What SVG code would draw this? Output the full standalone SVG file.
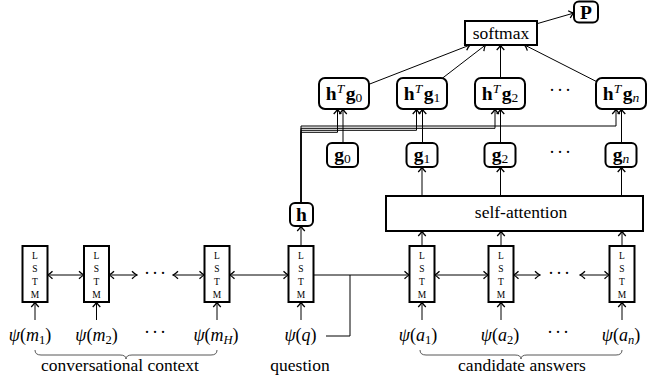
<svg xmlns="http://www.w3.org/2000/svg" width="649" height="383" viewBox="0 0 649 383">
<style>
.t{font-family:Liberation Serif,Times New Roman,Times,serif;fill:#000}
.box{fill:#fff;stroke:#000;stroke-width:2}
.rbox{fill:#fff;stroke:#000;stroke-width:2}
.ln{fill:none;stroke:#000;stroke-width:1}
.ar{fill:none;stroke:#000;stroke-width:1;marker-end:url(#ah)}
.dar{fill:none;stroke:#000;stroke-width:1;marker-end:url(#ah);marker-start:url(#ah)}
.br{fill:none;stroke:#444;stroke-width:0.9}
.lstm{font-size:9.5px;text-anchor:middle}
.m{font-size:18px;text-anchor:middle}
.n{font-size:19.5px;text-anchor:middle}
.d{font-size:18px;text-anchor:middle;letter-spacing:2px}
.lab{font-size:17.5px;text-anchor:middle}
.b{font-weight:bold}
.i{font-style:italic}
</style>
<defs>
<marker id="ah" viewBox="-6 -5 7 10" refX="0" refY="0" markerWidth="7" markerHeight="10" markerUnits="userSpaceOnUse" orient="auto-start-reverse">
<path d="M-5,-3.8 Q-2,-0.8 0,0 Q-2,0.8 -5,3.8" fill="none" stroke="#000" stroke-width="1.3"/>
</marker>
</defs>

<g id="connectors">
<path class="dar" d="M47.5,275 H84"/>
<path class="dar" d="M109,275 H137"/>
<path class="dar" d="M173,275 H204.5"/>
<path class="dar" d="M229.5,275 H288.5"/>
<path class="ar" d="M313.5,275 H409.5"/>
<path class="ln" d="M326,336 H350 V275"/>
<path class="dar" d="M434.5,275 H488.5"/>
<path class="dar" d="M513.5,275 H540"/>
<path class="dar" d="M580,275 H609.5"/>
<path class="ar" d="M35,320 V302"/>
<path class="ar" d="M96.5,320 V302"/>
<path class="ar" d="M217,320 V302"/>
<path class="ar" d="M301,320 V302"/>
<path class="ar" d="M422,320 V302"/>
<path class="ar" d="M501,320 V302"/>
<path class="ar" d="M622,320 V302"/>
<path class="ar" d="M422,246 V231"/>
<path class="ar" d="M501,246 V231"/>
<path class="ar" d="M622,246 V231"/>
<path class="ar" d="M301,246 V226"/>
<path class="ar" d="M422,196 V167"/>
<path class="ar" d="M500.5,196 V167"/>
<path class="ar" d="M621.5,196 V167"/>
<path class="ar" d="M343,143 V109"/>
<path class="ar" d="M422.5,143 V109"/>
<path class="ar" d="M500.5,143 V109"/>
<path class="ar" d="M621.5,143 V109"/>
<path class="ar" d="M301,203 V126 H616 V109"/>
<path class="ar" d="M301,203 V128.3 H495 V109"/>
<path class="ar" d="M301,203 V130.3 H416.5 V109"/>
<path class="ar" d="M301,203 V132.3 H337.5 V109"/>
<path class="ar" d="M369,84.3 L470,45"/>
<path class="ar" d="M442,78.5 L485.5,45"/>
<path class="ar" d="M500.5,78 V45"/>
<path class="ar" d="M596,81.3 L524.6,45"/>
<path class="ar" d="M537,23.7 L574,13"/>
</g>

<g id="lstm-m1"><rect class="box" x="22.5" y="246" width="25" height="56"/><text class="t lstm" x="35" y="259">L</text><text class="t lstm" x="35" y="272">S</text><text class="t lstm" x="35" y="285">T</text><text class="t lstm" x="35" y="298">M</text></g>
<g id="lstm-m2"><rect class="box" x="84" y="246" width="25" height="56"/><text class="t lstm" x="96.5" y="259">L</text><text class="t lstm" x="96.5" y="272">S</text><text class="t lstm" x="96.5" y="285">T</text><text class="t lstm" x="96.5" y="298">M</text></g>
<g id="lstm-mH"><rect class="box" x="204.5" y="246" width="25" height="56"/><text class="t lstm" x="217" y="259">L</text><text class="t lstm" x="217" y="272">S</text><text class="t lstm" x="217" y="285">T</text><text class="t lstm" x="217" y="298">M</text></g>
<g id="lstm-q"><rect class="box" x="288.5" y="246" width="25" height="56"/><text class="t lstm" x="301" y="259">L</text><text class="t lstm" x="301" y="272">S</text><text class="t lstm" x="301" y="285">T</text><text class="t lstm" x="301" y="298">M</text></g>
<g id="lstm-a1"><rect class="box" x="409.5" y="246" width="25" height="56"/><text class="t lstm" x="422" y="259">L</text><text class="t lstm" x="422" y="272">S</text><text class="t lstm" x="422" y="285">T</text><text class="t lstm" x="422" y="298">M</text></g>
<g id="lstm-a2"><rect class="box" x="488.5" y="246" width="25" height="56"/><text class="t lstm" x="501" y="259">L</text><text class="t lstm" x="501" y="272">S</text><text class="t lstm" x="501" y="285">T</text><text class="t lstm" x="501" y="298">M</text></g>
<g id="lstm-an"><rect class="box" x="609.5" y="246" width="25" height="56"/><text class="t lstm" x="622" y="259">L</text><text class="t lstm" x="622" y="272">S</text><text class="t lstm" x="622" y="285">T</text><text class="t lstm" x="622" y="298">M</text></g>

<g id="dots-lstm"><text class="t d" x="156" y="279">···</text><text class="t d" x="560" y="279">···</text></g>

<g id="inputs">
<text class="t m" x="30" y="341"><tspan class="i">ψ</tspan>(<tspan class="i">m</tspan><tspan font-size="12.5" dy="3">1</tspan><tspan dy="-3">)</tspan></text>
<text class="t m" x="96.5" y="341"><tspan class="i">ψ</tspan>(<tspan class="i">m</tspan><tspan font-size="12.5" dy="3">2</tspan><tspan dy="-3">)</tspan></text>
<text class="t d" x="156" y="338">···</text>
<text class="t m" x="216" y="341"><tspan class="i">ψ</tspan>(<tspan class="i">m</tspan><tspan class="i" font-size="12.5" dy="3">H</tspan><tspan dy="-3">)</tspan></text>
<text class="t m" x="300.5" y="341"><tspan class="i">ψ</tspan>(<tspan class="i">q</tspan>)</text>
<text class="t m" x="418" y="341"><tspan class="i">ψ</tspan>(<tspan class="i">a</tspan><tspan font-size="12.5" dy="3">1</tspan><tspan dy="-3">)</tspan></text>
<text class="t m" x="500" y="341"><tspan class="i">ψ</tspan>(<tspan class="i">a</tspan><tspan font-size="12.5" dy="3">2</tspan><tspan dy="-3">)</tspan></text>
<text class="t d" x="559" y="338">···</text>
<text class="t m" x="621" y="341"><tspan class="i">ψ</tspan>(<tspan class="i">a</tspan><tspan class="i" font-size="12.5" dy="3">n</tspan><tspan dy="-3">)</tspan></text>
</g>

<g id="braces">
<path class="br" d="M35,350 Q35,355 41,355 L120,355 Q126,355 126,359 Q126,355 132,355 L211,355 Q217,355 217,350"/>
<path class="br" d="M420,350 Q420,355 426,355 L515,355 Q521,355 521,359 Q521,355 527,355 L616,355 Q622,355 622,350"/>
<text class="t lab" x="120" y="371">conversational context</text>
<text class="t lab" x="300" y="371">question</text>
<text class="t lab" x="522" y="371">candidate answers</text>
</g>

<g id="h"><rect class="rbox" x="290" y="203" width="23" height="23" rx="5"/><text class="t n b" x="301.5" y="220.5">h</text></g>

<g id="self-attention"><rect class="box" x="386" y="196" width="257" height="35"/><text class="t lab" x="521" y="218">self-attention</text></g>

<g id="g0"><rect class="rbox" x="327" y="143" width="31" height="24" rx="5"/><text class="t n" x="342.5" y="161"><tspan class="b">g</tspan><tspan font-size="13.5" dy="2">0</tspan></text></g>
<g id="g1"><rect class="rbox" x="406.5" y="143" width="31" height="24" rx="5"/><text class="t n" x="422" y="161"><tspan class="b">g</tspan><tspan font-size="13.5" dy="2">1</tspan></text></g>
<g id="g2"><rect class="rbox" x="484.5" y="143" width="31" height="24" rx="5"/><text class="t n" x="500" y="161"><tspan class="b">g</tspan><tspan font-size="13.5" dy="2">2</tspan></text></g>
<text class="t d" x="561" y="158">···</text>
<g id="gn"><rect class="rbox" x="605.5" y="143" width="31" height="24" rx="5"/><text class="t n" x="621" y="161"><tspan class="b">g</tspan><tspan class="i" font-size="13.5" dy="2">n</tspan></text></g>

<g id="hTg0"><rect class="rbox" x="319" y="78" width="50" height="31" rx="6"/><text class="t n" x="344" y="100"><tspan class="b">h</tspan><tspan class="i" font-size="13.5" dy="-7">T</tspan><tspan class="b" dx="1.5" dy="7">g</tspan><tspan font-size="13.5" dy="2">0</tspan></text></g>
<g id="hTg1"><rect class="rbox" x="397" y="78" width="50" height="31" rx="6"/><text class="t n" x="422" y="100"><tspan class="b">h</tspan><tspan class="i" font-size="13.5" dy="-7">T</tspan><tspan class="b" dx="1.5" dy="7">g</tspan><tspan font-size="13.5" dy="2">1</tspan></text></g>
<g id="hTg2"><rect class="rbox" x="475" y="78" width="50" height="31" rx="6"/><text class="t n" x="500" y="100"><tspan class="b">h</tspan><tspan class="i" font-size="13.5" dy="-7">T</tspan><tspan class="b" dx="1.5" dy="7">g</tspan><tspan font-size="13.5" dy="2">2</tspan></text></g>
<text class="t d" x="561" y="96">···</text>
<g id="hTgn"><rect class="rbox" x="596" y="78" width="50" height="31" rx="6"/><text class="t n" x="621" y="100"><tspan class="b">h</tspan><tspan class="i" font-size="13.5" dy="-7">T</tspan><tspan class="b" dx="1.5" dy="7">g</tspan><tspan class="i" font-size="13.5" dy="2">n</tspan></text></g>

<g id="softmax"><rect class="box" x="465" y="21" width="72" height="24"/><text class="t lab" x="501" y="39">softmax</text></g>
<g id="P"><rect class="rbox" x="574" y="1.5" width="24" height="21" rx="5"/><text class="t n b" x="586" y="18.5">P</text></g>
</svg>
